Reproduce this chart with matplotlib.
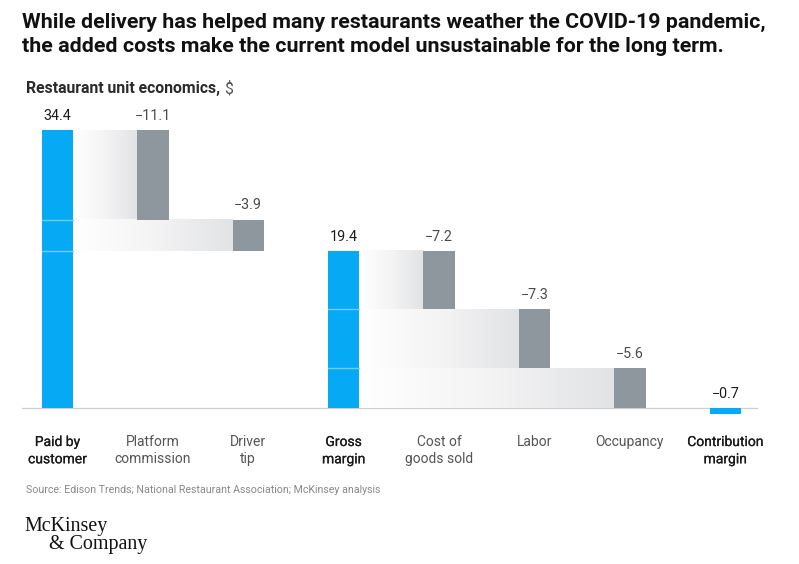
import matplotlib
matplotlib.use("Agg")
import matplotlib.pyplot as plt
import matplotlib.patheffects as pe
import numpy as np
from matplotlib.colors import LinearSegmentedColormap

categories = ["Paid by\ncustomer", "Platform\ncommission", "Driver\ntip", "Gross\nmargin",
              "Cost of\ngoods sold", "Labor", "Occupancy", "Contribution\nmargin"]
values = [34.4, -11.1, -3.9, 19.4, -7.2, -7.3, -5.6, -0.7]
is_total = [True, False, False, True, False, False, False, True]
value_labels = ["34.4", "\u221211.1", "\u22123.9", "19.4", "\u22127.2", "\u22127.3", "\u22125.6", "\u22120.7"]

W, H = 799, 564
fig = plt.figure(figsize=(W / 100, H / 100), dpi=100)
ax = fig.add_axes([0, 0, 1, 1])
ax.set_axis_off()

x0_px, step_px = 57.5, 95.4
base_px, scale = 408, 8.08
ax.set_xlim(-x0_px / step_px, (W - x0_px) / step_px)
ax.set_ylim(-(H - base_px) / scale, base_px / scale)

BLUE = "#05a9f4"
GREY = "#8f979e"
bw = 0.33
grad_cmap = LinearSegmentedColormap.from_list("g", ["#ffffff", "#f4f4f5", "#e2e3e5"])
grad = np.linspace(0, 1, 256).reshape(1, -1)
medium = [pe.withStroke(linewidth=0.15, foreground="#1a1a1a")]

# baseline
ax.plot([(22 - x0_px) / step_px, (757 - x0_px) / step_px], [0, 0], color="#cfcfcf", lw=0.9, zorder=1)

running = 0.0
last_total_idx = 0
levels = {}
for i, (v, tot) in enumerate(zip(values, is_total)):
    if tot:
        bottom, top = (0, v) if v >= 0 else (v, 0)
        ax.bar(i, top - bottom, bottom=bottom, width=bw, color=BLUE, zorder=3)
        running = v
        last_total_idx = i
        levels[i] = []
        label_y = max(top, 0)
        col = "#1a1a1a"
    else:
        top = running
        bottom = max(running + v, 0)
        ax.bar(i, top - bottom, bottom=bottom, width=bw, color=GREY, zorder=3)
        xl = last_total_idx + bw / 2
        xr = i - bw / 2
        ax.imshow(grad, extent=[xl, xr, bottom, top], cmap=grad_cmap, aspect="auto",
                  interpolation="bicubic", zorder=2)
        if bottom > 0:
            levels[last_total_idx].append(bottom)
        running = running + v
        label_y = top
        col = "#4a4a4a"
    ax.text(i, label_y + 0.9, value_labels[i], ha="center", va="bottom", fontsize=10.3,
            color=col, family="Roboto")

# light separator lines inside total bars
for i, lv in levels.items():
    for y in lv:
        ax.plot([i - bw / 2, i + bw / 2], [y, y], color="#6fd0fb", lw=1.0, zorder=4)

# category labels
for i, (c, tot) in enumerate(zip(categories, is_total)):
    ax.text(i, -(435 - base_px) / scale, c, ha="center", va="top", fontsize=10,
            color="#1a1a1a" if tot else "#555555", family="Roboto", linespacing=1.3,
            path_effects=medium if tot else None)

fig.text(22 / W, 1 - 22 / H, "While delivery has helped many restaurants weather the COVID-19 pandemic,",
         fontsize=15.4, fontweight="bold", family="Roboto", color="#111111", va="center", ha="left")
fig.text(22 / W, 1 - 47 / H, "the added costs make the current model unsustainable for the long term.",
         fontsize=15.4, fontweight="bold", family="Roboto", color="#111111", va="center", ha="left")
t = fig.text(26 / W, 1 - 89 / H, "Restaurant unit economics, ", fontsize=11.3, fontweight="bold",
             family="Roboto", color="#2a2a2a", va="center", ha="left")
fig.canvas.draw()
bb = t.get_window_extent()
fig.text(bb.x1 / W, 1 - 89 / H, "$", fontsize=11.3, family="Roboto", color="#555555",
         va="center", ha="left")

fig.text(26 / W, 1 - 490 / H, "Source: Edison Trends; National Restaurant Association; McKinsey analysis",
         fontsize=7.7, family="Roboto", color="#888888", va="center", ha="left")
fig.text(24 / W, 1 - 526 / H, "McKinsey", fontsize=14.4, family="Liberation Serif", color="#111111",
         va="center", ha="left")
fig.text(49 / W, 1 - 545 / H, "& Company", fontsize=14.4, family="Liberation Serif", color="#111111",
         va="center", ha="left")

fig.savefig("out.png", dpi=100)
